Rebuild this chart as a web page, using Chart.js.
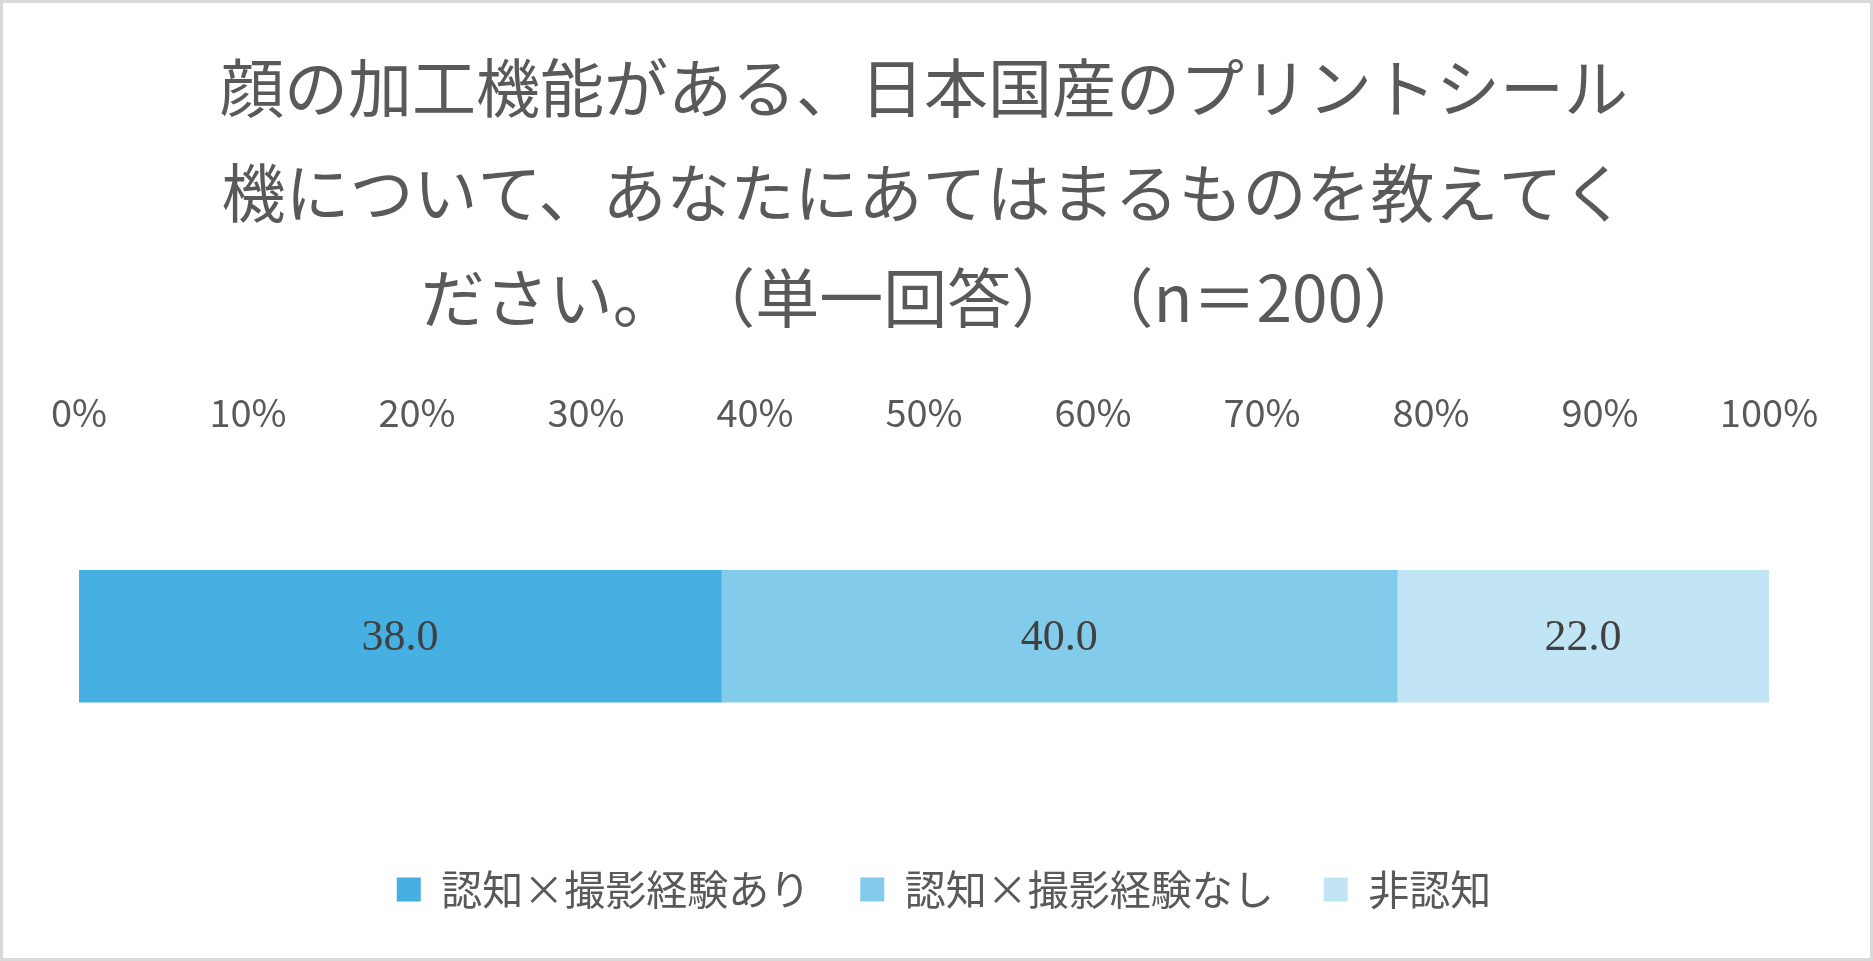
<!DOCTYPE html>
<html>
<head>
<meta charset="utf-8">
<script src="https://cdn.jsdelivr.net/npm/chart.js@4.4.1/dist/chart.umd.min.js"></script>
<style>
  html, body { margin: 0; padding: 0; background: #ffffff; }
  #wrap { width: 1873px; height: 961px; box-sizing: border-box; border: 3px solid #d9d9d9; position: relative; }
</style>
</head>
<body>
<div id="wrap"><canvas id="myChart"></canvas></div>
<script>
// chart data
var categories = [""];
var seriesNames = ["認知×撮影経験あり", "認知×撮影経験なし", "非認知"];
var aware_used = [38.0];
var aware_notUsed = [40.0];
var notAware = [22.0];
var tickValues = [0, 10, 20, 30, 40, 50, 60, 70, 80, 90, 100];
var titleLines = [
  "顔の加工機能がある、日本国産のプリントシール",
  "機について、あなたにあてはまるものを教えてく",
  "ださい。 （単一回答） （n＝200）"
];

var jpFont = "'Noto Sans CJK JP', 'Noto Sans', sans-serif";

// draw value labels in the middle of each bar segment
var barLabels = {
  id: 'barLabels',
  afterLayout: function(chart){
    // legend is centred on the whole picture, not on the plot area
    if (chart.legend) {
      chart.legend.left += 20;
      chart.legend.right += 20;
    }
  },
  afterDatasetsDraw: function(chart){
    var ctx = chart.ctx;
    ctx.save();
    ctx.font = "44px 'Liberation Serif', 'DejaVu Serif', serif";
    ctx.fillStyle = '#404040';
    ctx.textAlign = 'center';
    ctx.textBaseline = 'middle';
    chart.data.datasets.forEach(function(ds, i){
      var meta = chart.getDatasetMeta(i);
      meta.data.forEach(function(el, j){
        var x = (el.x + el.base) / 2;
        ctx.fillText(ds.data[j].toFixed(1), x, el.y + 2);
      });
    });
    ctx.restore();
  }
};

function makeData(){
  return {
    labels: categories,
    datasets: [
      { label: seriesNames[0], data: aware_used, backgroundColor: '#45b0e1' },
      { label: seriesNames[1], data: aware_notUsed, backgroundColor: '#83cbeb' },
      { label: seriesNames[2], data: notAware, backgroundColor: '#c1e5f5' }
    ]
  };
}

var ctx = document.getElementById('myChart').getContext('2d');
var chart = new Chart(ctx, {
  type: 'bar',
  data: makeData(),
  plugins: [barLabels],
  options: {
    indexAxis: 'y',
    responsive: true,
    maintainAspectRatio: false,
    animation: false,
    layout: { padding: { left: 76, right: 101, top: 0, bottom: 38 } },
    datasets: { bar: { barThickness: 132 } },
    scales: {
      x: {
        stacked: true,
        position: 'top',
        min: 0,
        max: 100,
        afterBuildTicks: function(axis){
          axis.ticks = tickValues.map(function(v){ return { value: v }; });
        },
        ticks: {
          color: '#595959',
          font: { family: jpFont, size: 38 },
          padding: 18,
          callback: function(v){ return v + '%'; }
        },
        grid: { display: false, drawTicks: false },
        border: { display: false }
      },
      y: {
        stacked: true,
        display: false
      }
    },
    plugins: {
      title: {
        display: true,
        text: titleLines,
        color: '#595959',
        font: { family: jpFont, size: 64, weight: 'normal', lineHeight: 1.64 },
        padding: { top: 32, bottom: 22 }
      },
      legend: {
        position: 'bottom',
        labels: {
          color: '#595959',
          font: { family: jpFont, size: 41 },
          boxWidth: 24,
          boxHeight: 24,
          padding: 50
        }
      },
      tooltip: { enabled: false }
    }
  }
});
</script>
</body>
</html>
